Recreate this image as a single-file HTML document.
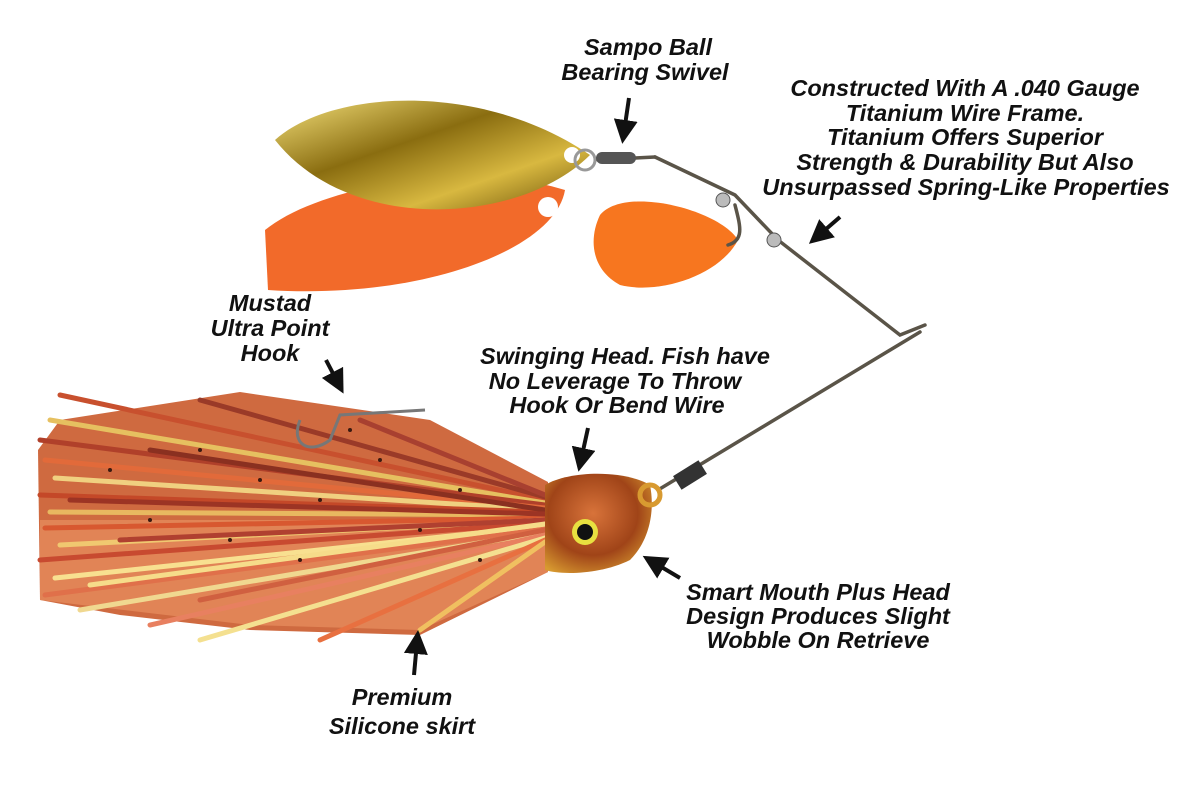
<!DOCTYPE html>
<html><head><meta charset="utf-8"><style>
html,body{margin:0;padding:0;background:#fff;width:1200px;height:807px;overflow:hidden}
svg{display:block}
text{font-family:"Liberation Sans",sans-serif;font-weight:bold;font-style:italic;font-size:23.5px;fill:#111;text-anchor:middle}
</style></head><body>
<svg width="1200" height="807" viewBox="0 0 1200 807">
<defs>
<linearGradient id="gold" x1="0" y1="0" x2="1" y2="1">
<stop offset="0" stop-color="#f4e07a"/><stop offset="0.4" stop-color="#8a6d10"/><stop offset="0.7" stop-color="#d8b840"/><stop offset="1" stop-color="#6b5108"/></linearGradient>
<radialGradient id="head" cx="0.45" cy="0.4" r="0.7"><stop offset="0" stop-color="#d8733a"/><stop offset="0.6" stop-color="#a04418"/><stop offset="1" stop-color="#d89a30"/></radialGradient>
<marker id="ah" markerWidth="6" markerHeight="6" refX="3" refY="3" orient="auto" markerUnits="strokeWidth"><path d="M0,0 L6,3 L0,6 z" fill="#111"/></marker>
</defs>
<!-- orange big blade -->
<path d="M265,230 C320,185 470,160 565,190 C555,250 420,300 268,290 Z" fill="#f26a2a"/>
<circle cx="548" cy="207" r="10" fill="#fff"/>
<!-- gold blade -->
<path d="M275,140 C330,90 480,80 590,155 C520,225 350,235 275,140 Z" fill="url(#gold)"/>
<circle cx="572" cy="155" r="8" fill="#fff"/>
<!-- small orange blade -->
<path d="M600,215 C625,185 720,210 738,240 C720,275 660,295 620,285 C592,270 588,240 600,215 Z" fill="#f7761f"/>
<!-- wire -->
<g fill="none" stroke="#5a5448" stroke-width="3.5" stroke-linecap="round">
<circle cx="585" cy="160" r="10" stroke="#999" stroke-width="3"/>
<path d="M598,160 L655,157"/>
<path d="M655,157 L735,195 L778,240 L900,335 L925,325"/>
<path d="M920,332 L658,490"/>
<path d="M735,205 C740,225 745,240 728,245"/>
</g>
<rect x="596" y="152" width="40" height="12" rx="6" fill="#555"/>
<circle cx="723" cy="200" r="7" fill="#bbb" stroke="#555"/>
<circle cx="774" cy="240" r="7" fill="#bbb" stroke="#555"/>
<rect x="675" y="467" width="30" height="16" fill="#333" transform="rotate(-32 690 475)"/>
<!-- skirt base -->
<path d="M548,482 L430,420 L240,392 L60,420 L38,450 L40,600 L120,615 L250,630 L420,635 L548,572 Z" fill="#cf6a40"/>
<path d="M548,520 L40,520 L40,600 L250,625 L420,630 L548,572 Z" fill="#e89060" opacity="0.7"/>
<!-- skirt -->
<g stroke-width="5" stroke-linecap="round" fill="none">
<path d="M545,500 L60,395" stroke="#c8502e"/>
<path d="M545,503 L50,420" stroke="#e6c060"/>
<path d="M545,505 L40,440" stroke="#b0402a"/>
<path d="M545,508 L45,460" stroke="#e26a3a"/>
<path d="M545,510 L55,478" stroke="#f0d080"/>
<path d="M545,512 L40,495" stroke="#c44828"/>
<path d="M545,515 L50,512" stroke="#e8b860"/>
<path d="M545,518 L45,528" stroke="#d85830"/>
<path d="M545,520 L60,545" stroke="#f0c870"/>
<path d="M545,523 L40,560" stroke="#c84a30"/>
<path d="M545,526 L55,578" stroke="#f8e090"/>
<path d="M545,529 L45,595" stroke="#e0704a"/>
<path d="M545,532 L80,610" stroke="#f0d890"/>
<path d="M545,535 L150,625" stroke="#e88060"/>
<path d="M545,538 L200,640" stroke="#f4e090"/>
<path d="M545,540 L320,640" stroke="#e87040"/>
<path d="M545,542 L420,630" stroke="#f0c060"/>
<path d="M545,497 L200,400" stroke="#9a3a28"/>
<path d="M545,495 L360,420" stroke="#a84030"/>
<path d="M545,510 L150,450" stroke="#8a3020"/>
<path d="M545,520 L120,540" stroke="#b04030"/>
<path d="M545,530 L200,600" stroke="#d06040"/>
<path d="M545,524 L90,585" stroke="#f6dc8a"/>
<path d="M545,514 L70,500" stroke="#9c3424"/>
</g>
<g fill="#3a1a10">
<circle cx="200" cy="450" r="2"/><circle cx="260" cy="480" r="2"/><circle cx="320" cy="500" r="2"/><circle cx="380" cy="460" r="2"/><circle cx="150" cy="520" r="2"/><circle cx="420" cy="530" r="2"/><circle cx="300" cy="560" r="2"/><circle cx="460" cy="490" r="2"/><circle cx="110" cy="470" r="2"/><circle cx="230" cy="540" r="2"/><circle cx="350" cy="430" r="2"/><circle cx="480" cy="560" r="2"/>
</g>
<!-- hook -->
<path d="M300,420 C290,445 310,455 330,440 L340,415 L425,410" fill="none" stroke="#777" stroke-width="3"/>
<!-- head -->
<path d="M545,485 C570,470 625,470 650,485 C655,510 650,540 630,560 C600,575 560,575 545,570 Z" fill="url(#head)"/>
<circle cx="650" cy="495" r="10" fill="none" stroke="#d89a30" stroke-width="5"/>
<circle cx="585" cy="532" r="13" fill="#e8e040"/>
<circle cx="585" cy="532" r="8" fill="#111"/>
<!-- arrows -->
<g stroke="#111" stroke-width="4" marker-end="url(#ah)">
<line x1="629" y1="98" x2="624" y2="132"/>
<line x1="840" y1="217" x2="818" y2="236"/>
<line x1="326" y1="360" x2="338" y2="383"/>
<line x1="588" y1="428" x2="581" y2="460"/>
<line x1="680" y1="578" x2="653" y2="562"/>
<line x1="414" y1="675" x2="417" y2="642"/>
</g>
<!-- labels -->
<text x="648" y="55">Sampo Ball</text>
<text x="645" y="80">Bearing Swivel</text>
<text x="965" y="96">Constructed With A .040 Gauge</text>
<text x="965" y="121">Titanium Wire Frame.</text>
<text x="965" y="145">Titanium Offers Superior</text>
<text x="965" y="170">Strength &amp; Durability But Also</text>
<text x="966" y="195">Unsurpassed Spring-Like Properties</text>
<text x="270" y="311">Mustad</text>
<text x="270" y="336">Ultra Point</text>
<text x="270" y="361">Hook</text>
<text x="625" y="364">Swinging Head. Fish have</text>
<text x="615" y="389">No Leverage To Throw</text>
<text x="617" y="413">Hook Or Bend Wire</text>
<text x="818" y="600">Smart Mouth Plus Head</text>
<text x="818" y="624">Design Produces Slight</text>
<text x="818" y="648">Wobble On Retrieve</text>
<text x="402" y="705">Premium</text>
<text x="402" y="734">Silicone skirt</text>
</svg>
</body></html>
